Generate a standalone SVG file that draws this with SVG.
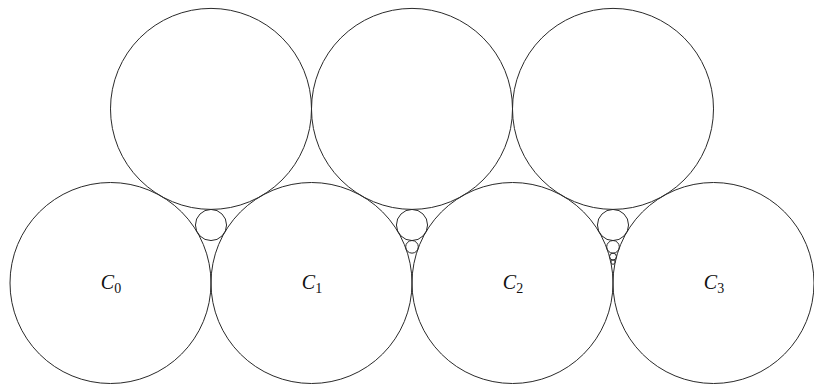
<svg xmlns="http://www.w3.org/2000/svg" width="814" height="384" viewBox="0 0 814 384">
<style>
circle{fill:none;stroke:#2a2a2a;stroke-width:1}
text{font-family:"Liberation Serif","DejaVu Serif",serif;font-style:italic;font-size:20px;fill:#111;text-anchor:middle}
.s{font-style:normal;font-size:14px}
</style>
<rect width="814" height="384" fill="#fff"/>
<g id="top-circles">
<circle id="T0" cx="211" cy="108.9" r="100.5"/>
<circle id="T1" cx="412" cy="108.9" r="100.5"/>
<circle id="T2" cx="613" cy="108.9" r="100.5"/>
</g>
<g id="C0"><circle cx="110.5" cy="283" r="100.5"/><text x="111" y="289">C<tspan class="s" dy="4">0</tspan></text></g>
<g id="C1"><circle cx="311.5" cy="283" r="100.5"/><text x="312" y="289">C<tspan class="s" dy="4">1</tspan></text></g>
<g id="C2"><circle cx="512.5" cy="283" r="100.5"/><text x="513" y="289">C<tspan class="s" dy="4">2</tspan></text></g>
<g id="C3"><circle cx="713.5" cy="283" r="100.5"/><text x="714" y="289">C<tspan class="s" dy="4">3</tspan></text></g>
<g id="gap0"><circle cx="211" cy="225" r="15.55"/></g>
<g id="gap1"><circle cx="412" cy="225" r="15.55"/><circle cx="412" cy="246.84" r="6.31"/></g>
<g id="gap2"><circle cx="613" cy="225" r="15.55"/><circle cx="613" cy="246.84" r="6.31"/><circle cx="613" cy="256.57" r="3.42"/><circle cx="613" cy="262.13" r="2.14"/></g>
</svg>
